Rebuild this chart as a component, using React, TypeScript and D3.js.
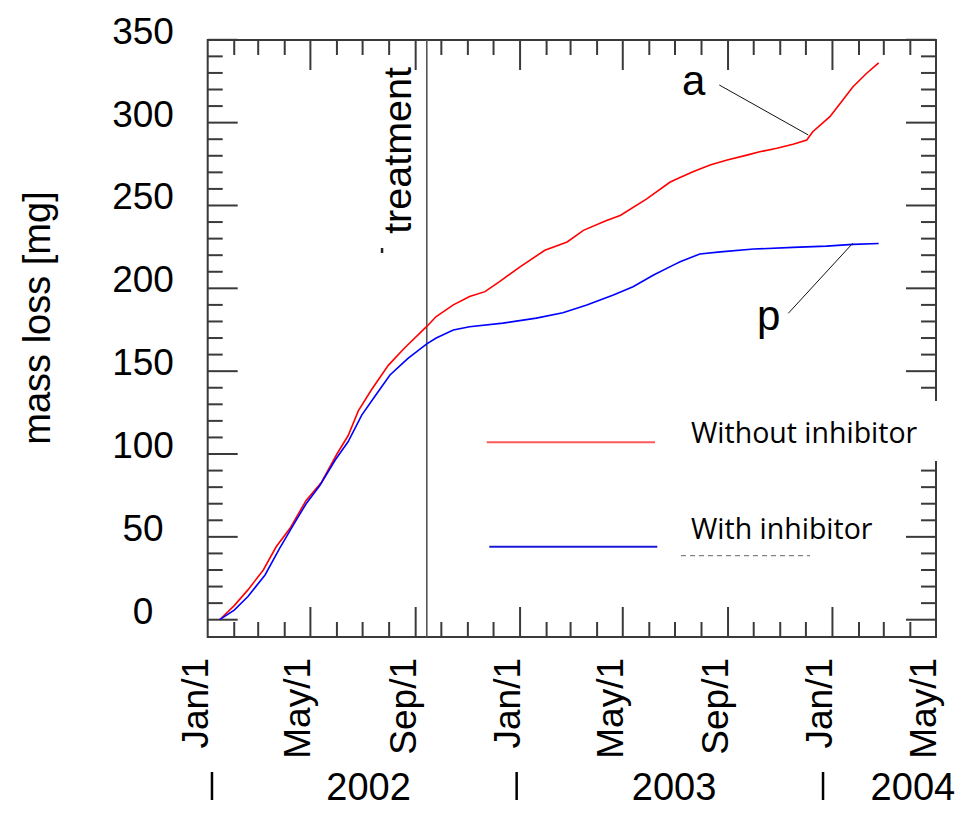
import React from "react";
import * as d3 from "d3";

// ---- data ----
const redDates = [
  "2002-01-15", "2002-02-01", "2002-02-17", "2002-03-07", "2002-03-22", "2002-04-07", "2002-04-26",
  "2002-05-14", "2002-06-01", "2002-06-14", "2002-06-26", "2002-07-11", "2002-07-31", "2002-08-19",
  "2002-09-14", "2002-09-25", "2002-10-15", "2002-11-03", "2002-11-21", "2002-12-08", "2003-01-01",
  "2003-01-30", "2003-02-25", "2003-03-16", "2003-04-12", "2003-04-28", "2003-05-29", "2003-06-25",
  "2003-07-03", "2003-07-22", "2003-08-11", "2003-08-31", "2003-09-23", "2003-10-08", "2003-10-28",
  "2003-11-16", "2003-12-02", "2003-12-09", "2003-12-29", "2004-01-10", "2004-01-25", "2004-02-10",
  "2004-02-24",
];
const redValues = [
  0, 8.5, 18, 30, 44, 55, 72,
  83, 100, 111, 126, 138.5, 153.5, 164,
  177, 183, 190, 195, 198, 204, 213,
  223, 228, 235, 241, 244, 254, 264,
  266, 270.4, 274.4, 277.4, 280.4, 282.4, 284.5,
  287, 289.5, 294.5, 303.6, 311.6, 321.7, 329.8,
  336.1,
];
const blueDates = [
  "2002-01-15", "2002-02-01", "2002-02-17", "2002-03-09", "2002-03-26", "2002-04-12", "2002-04-26",
  "2002-05-12", "2002-05-30", "2002-06-14", "2002-06-30", "2002-07-15", "2002-08-02", "2002-08-23",
  "2002-09-14", "2002-09-25", "2002-10-15", "2002-11-03", "2002-12-12", "2003-01-20", "2003-02-20",
  "2003-03-20", "2003-04-20", "2003-05-13", "2003-06-06", "2003-06-29", "2003-07-07", "2003-07-30",
  "2003-08-23", "2003-10-01", "2003-11-16", "2003-12-25", "2004-01-25", "2004-02-24",
];
const blueValues = [
  0, 5.8, 14, 27, 43, 58, 70,
  81, 96.4, 107.4, 123.5, 134.6, 147.7, 157.7,
  166.5, 170, 174.8, 176.8, 179, 182, 185.3,
  190, 196, 201, 208, 214, 216, 220.7,
  222, 223.7, 224.7, 225.5, 226.5, 227.1,
];
const yTickValues = [0, 50, 100, 150, 200, 250, 300, 350];
const xTickDates = ["2002-01-01", "2002-05-01", "2002-09-01", "2003-01-01", "2003-05-01", "2003-09-01", "2004-01-01", "2004-05-01"];
const xTickLabels = ["Jan/1", "May/1", "Sep/1", "Jan/1", "May/1", "Sep/1", "Jan/1", "May/1"];
const yearLabels = ["2002", "2003", "2004"];
const yearCenterDates = ["2002-07-08", "2003-06-30", "2004-04-04"];
const yearMarkDates = ["2002-01-06", "2002-12-28", "2003-12-21"];
const treatmentDate = "2002-09-14";
const seriesNames = ["Without inhibitor", "With inhibitor"];

const parse = d3.utcParse("%Y-%m-%d");

export default function App() {
  const L = 207.7, R = 936, T = 40, B = 637;
  const x = d3.scaleUtc().domain([parse("2002-01-01")!, parse("2004-05-01")!]).range([L, R]);
  const y = d3.scaleLinear().domain([0, 350]).range([619.7, 39.8]);

  const redData = redDates.map((d, i) => ({ d: parse(d)!, v: redValues[i] }));
  const blueData = blueDates.map((d, i) => ({ d: parse(d)!, v: blueValues[i] }));
  const line = d3.line<{ d: Date; v: number }>().x((p) => x(p.d)).y((p) => y(p.v)).curve(d3.curveLinear);

  const axisColor = "#3a3a3a";
  const font = "'Liberation Sans', Arial, Helvetica, sans-serif";
  const legendFont = "'Open Sans', 'Noto Sans', sans-serif";

  const yMinor = d3.range(0, 351, 10);
  const months = d3.utcMonth.range(parse("2002-02-01")!, parse("2004-05-01")!);
  const isMajor = (d: Date) => d.getUTCMonth() % 4 === 0;

  const tx = x(parse(treatmentDate)!);

  return (
    <svg width={961} height={815} style={{ position: "absolute", left: 0, top: 0, background: "#fff" }}>
      <rect x={0} y={0} width={961} height={815} fill="#fff" />
      {/* frame */}
      <rect x={L} y={T} width={R - L} height={B - T} fill="none" stroke={axisColor} strokeWidth={2} />
      {yMinor.map((v) => {
        const len = v % 50 === 0 ? 30 : 15;
        const yy = y(v);
        return (
          <g key={"y" + v}>
            <line x1={L} x2={L + len} y1={yy} y2={yy} stroke={axisColor} strokeWidth={2} />
            <line x1={R} x2={R - len} y1={yy} y2={yy} stroke={axisColor} strokeWidth={2} />
          </g>
        );
      })}
      {months.map((m, i) => {
        const len = isMajor(m) ? 30 : 15;
        const xx = x(m);
        return (
          <g key={"x" + i}>
            <line x1={xx} x2={xx} y1={B} y2={B - len} stroke={axisColor} strokeWidth={2} />
            <line x1={xx} x2={xx} y1={T} y2={T + len} stroke={axisColor} strokeWidth={2} />
          </g>
        );
      })}
      {/* treatment line */}
      <line x1={tx} x2={tx} y1={T} y2={B} stroke="#555" strokeWidth={1.6} />
      <text
        transform={`translate(${tx - 16},67) rotate(-90)`}
        textAnchor="end"
        fontFamily={font}
        fontSize={39.5}
        fill="#000"
      >
        treatment
      </text>
      <rect x={tx - 46} y={248} width={2.5} height={5} fill="#222" />

      {/* series */}
      <path d={line(redData) || ""} fill="none" stroke="#ff0000" strokeWidth={1.6} />
      <path d={line(blueData) || ""} fill="none" stroke="#0000ff" strokeWidth={1.6} />

      {/* annotations */}
      <line x1={719.3} y1={85} x2={808.3} y2={135} stroke="#111" strokeWidth={1} />
      <text x={682} y={95} fontFamily={font} fontSize={42} fill="#000">a</text>
      <line x1={788.3} y1={313.3} x2={852.7} y2={243.3} stroke="#111" strokeWidth={1} />
      <text x={757} y={330} fontFamily={font} fontSize={42} fill="#000">p</text>

      {/* legend */}
      <rect x={662} y={401} width={290} height={60} fill="#fff" />
      <line x1={486.7} x2={655} y1={442.3} y2={442.3} stroke="#ff5a5a" strokeWidth={2} />
      <text x={691} y={443.3} fontFamily={legendFont} fontSize={28.5} fill="#000">
        {seriesNames[0]}
      </text>
      <line x1={489.3} x2={657.3} y1={546.7} y2={546.7} stroke="#1a1ad8" strokeWidth={2} />
      <text x={691} y={539} fontFamily={legendFont} fontSize={28.5} fill="#000">
        {seriesNames[1]}
      </text>
      <line x1={681} x2={810} y1={555.7} y2={555.7} stroke="#666" strokeWidth={1} strokeDasharray="5 4" />

      {/* y labels */}
      {yTickValues.map((v) => (
        <text key={"yl" + v} x={143} y={y(v) + 4} textAnchor="middle" fontFamily={font} fontSize={37} fill="#000">
          {v}
        </text>
      ))}
      <text transform={`translate(50,318) rotate(-90)`} textAnchor="middle" fontFamily={font} fontSize={38} fill="#000">
        mass loss [mg]
      </text>

      {/* x labels */}
      {xTickDates.map((d, i) => (
        <text
          key={"xl" + i}
          transform={`translate(${x(parse(d)!)},658) rotate(-90)`}
          textAnchor="end"
          fontFamily={font}
          fontSize={37}
          fill="#000"
        >
          {xTickLabels[i]}
        </text>
      ))}
      {yearLabels.map((t, i) => (
        <text
          key={"yr" + t}
          x={x(parse(yearCenterDates[i])!)}
          y={800}
          textAnchor="middle"
          fontFamily={font}
          fontSize={38}
          fill="#000"
        >
          {t}
        </text>
      ))}
      {yearMarkDates.map((d, i) => (
        <line key={"ym" + i} x1={x(parse(d)!)} x2={x(parse(d)!)} y1={772} y2={800} stroke="#000" strokeWidth={2.5} />
      ))}
    </svg>
  );
}
